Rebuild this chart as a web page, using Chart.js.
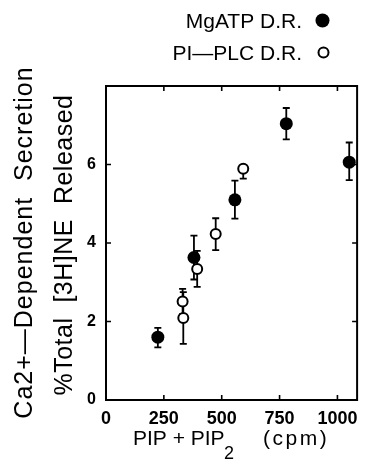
<!DOCTYPE html>
<html>
<head>
<meta charset="utf-8">
<script src="https://cdn.jsdelivr.net/npm/chart.js@4.4.0/dist/chart.umd.min.js"></script>
<style>
  body { margin: 0; background: #fff; }
  canvas { display: block; }
</style>
</head>
<body>
<canvas id="secretion-chart" width="366" height="460"></canvas>
<script>
// Tick values
const xTicks = [0, 250, 500, 750, 1000];
const yTicks = [0, 2, 4, 6];

// MgATP D.R. (filled circles)
const mgatpX = [224, 380, 557, 779, 1051];
const mgatpY = [1.60, 3.63, 5.10, 7.04, 6.06];
const mgatpErrUp = [0.24, 0.56, 0.49, 0.40, 0.50];
const mgatpErrDown = [0.26, 0.56, 0.48, 0.40, 0.46];

// PI-PLC D.R. (open circles)
const plcX = [334, 331, 394, 474, 593];
const plcY = [2.09, 2.51, 3.34, 4.23, 5.89];
const plcErrUp = [0.66, 0.32, 0.46, 0.40, 0.08];
const plcErrDown = [0.66, 0.32, 0.46, 0.41, 0.25];

// Texts
const yTitleLines = ['Ca2+\u2014Dependent  Secretion', '%Total  [3H]NE  Released'];
const legendLabels = ['MgATP D.R.', 'PI\u2014PLC D.R.'];

const FONT = '"Liberation Sans", Arial, sans-serif';

const decorPlugin = {
    id: 'decor',
    beforeDatasetsDraw(chart) {
        // error bars, under the markers
        const ctx = chart.ctx;
        const yScale = chart.scales.y;
        ctx.save();
        ctx.strokeStyle = '#000';
        ctx.lineWidth = 1.8;
        chart.data.datasets.forEach((ds, di) => {
            chart.getDatasetMeta(di).data.forEach((pt, i) => {
                const top = yScale.getPixelForValue(ds.data[i].y + ds.errUp[i]);
                const bot = yScale.getPixelForValue(ds.data[i].y - ds.errDown[i]);
                ctx.beginPath();
                ctx.moveTo(pt.x, top);
                ctx.lineTo(pt.x, bot);
                ctx.moveTo(pt.x - 3.5, top);
                ctx.lineTo(pt.x + 3.5, top);
                ctx.moveTo(pt.x - 3.5, bot);
                ctx.lineTo(pt.x + 3.5, bot);
                ctx.stroke();
            });
        });
        ctx.restore();
    },
    afterDraw(chart) {
        const ctx = chart.ctx;
        const a = chart.chartArea;
        const xs = chart.scales.x;
        const ys = chart.scales.y;
        ctx.save();
        ctx.strokeStyle = '#000';
        ctx.fillStyle = '#000';

        // frame
        ctx.lineWidth = 2;
        ctx.strokeRect(a.left, a.top, a.right - a.left, a.bottom - a.top);

        // inward ticks on all four sides
        ctx.lineWidth = 1.6;
        ctx.beginPath();
        xs.ticks.forEach(t => {
            const px = xs.getPixelForValue(t.value);
            ctx.moveTo(px, a.bottom); ctx.lineTo(px, a.bottom - 5);
            ctx.moveTo(px, a.top); ctx.lineTo(px, a.top + 5);
        });
        ys.ticks.forEach(t => {
            const py = ys.getPixelForValue(t.value);
            ctx.moveTo(a.left, py); ctx.lineTo(a.left + 5, py);
            ctx.moveTo(a.right, py); ctx.lineTo(a.right - 5, py);
        });
        ctx.stroke();

        // y axis title, two rotated lines
        ctx.font = '25px ' + FONT;
        ctx.textAlign = 'center';
        ctx.textBaseline = 'alphabetic';
        ctx.save();
        ctx.letterSpacing = '1px';
        ctx.translate(32, 242.5);
        ctx.rotate(-Math.PI / 2);
        ctx.fillText(yTitleLines[0], 0, 0);
        ctx.restore();
        ctx.save();
        ctx.letterSpacing = '0.5px';
        ctx.translate(72, 245);
        ctx.rotate(-Math.PI / 2);
        ctx.fillText(yTitleLines[1], 0, 0);
        ctx.restore();

        // x axis title with subscript
        ctx.textAlign = 'left';
        ctx.font = '21px ' + FONT;
        ctx.fillText('PIP + PIP', 133, 445);
        ctx.font = '18px ' + FONT;
        ctx.fillText('2', 224, 459);
        ctx.font = '21px ' + FONT;
        ctx.save();
        ctx.letterSpacing = '2.5px';
        ctx.fillText('(cpm)', 263, 445);
        ctx.restore();

        // legend
        ctx.textAlign = 'right';
        ctx.font = '21px ' + FONT;
        ctx.fillText(legendLabels[0], 302, 28);
        ctx.fillText(legendLabels[1], 302, 60);
        ctx.beginPath();
        ctx.arc(322.5, 20.5, 7, 0, Math.PI * 2);
        ctx.fill();
        ctx.beginPath();
        ctx.lineWidth = 2;
        ctx.arc(323.5, 52.5, 5, 0, Math.PI * 2);
        ctx.stroke();

        ctx.restore();
    }
};

const tickFont = size => ({ family: FONT, size: size, weight: 'bold' });

const chartCanvas = document.getElementById('secretion-chart').getContext('2d');

const secretionChart = new Chart(chartCanvas, {
    type: 'scatter',
    data: {
        datasets: [{
            label: legendLabels[1],
            data: plcX.map((x, i) => ({ x: x, y: plcY[i] })),
            errUp: plcErrUp,
            errDown: plcErrDown,
            pointRadius: 5,
            pointBackgroundColor: '#fff',
            pointBorderColor: '#000',
            pointBorderWidth: 2,
            clip: false,
            order: 1
        }, {
            label: legendLabels[0],
            data: mgatpX.map((x, i) => ({ x: x, y: mgatpY[i] })),
            errUp: mgatpErrUp,
            errDown: mgatpErrDown,
            pointRadius: 6.5,
            pointBackgroundColor: '#000',
            pointBorderColor: '#000',
            pointBorderWidth: 0,
            clip: false,
            order: 2
        }]
    },
    options: {
        responsive: false,
        animation: false,
        events: [],
        layout: {
            padding: { top: 86, right: 5, left: 0, bottom: 0 }
        },
        plugins: {
            legend: { display: false },
            tooltip: { enabled: false }
        },
        scales: {
            x: {
                type: 'linear',
                min: 0,
                max: 1085,
                grid: { display: false, drawTicks: false },
                border: { display: false },
                afterBuildTicks: s => { s.ticks = xTicks.map(v => ({ value: v })); },
                afterFit: s => { s.height = 60; },
                ticks: {
                    color: '#000',
                    font: tickFont(18),
                    padding: 8,
                    maxRotation: 0,
                    autoSkip: false,
                    callback: v => String(v)
                }
            },
            y: {
                type: 'linear',
                min: 0,
                max: 8,
                grid: { display: false, drawTicks: false },
                border: { display: false },
                afterBuildTicks: s => { s.ticks = yTicks.map(v => ({ value: v })); },
                afterFit: s => { s.width = 106; },
                ticks: {
                    color: '#000',
                    font: tickFont(16),
                    padding: 10,
                    autoSkip: false,
                    callback: v => String(v)
                }
            }
        }
    },
    plugins: [decorPlugin]
});
</script>
</body>
</html>
